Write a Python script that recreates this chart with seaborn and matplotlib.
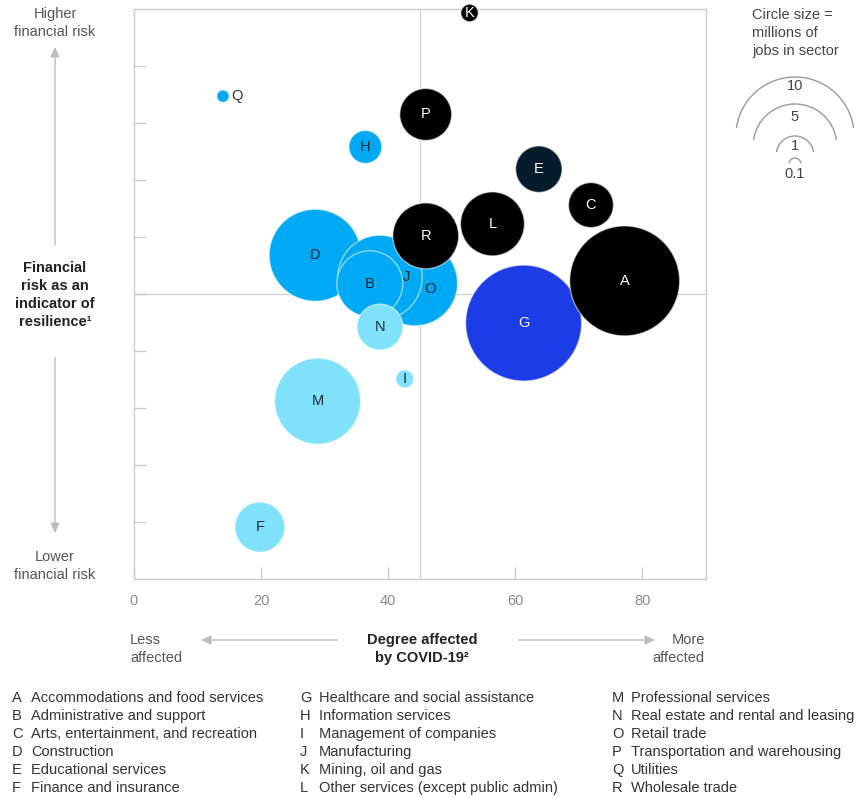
import matplotlib
matplotlib.use("Agg")
import matplotlib.pyplot as plt
import seaborn as sns
import pandas as pd
from matplotlib.patches import Arc

# -----------------------------
# Data
# -----------------------------
letters = list("ABCDEFGHIJKLMNOPQR")
sectors = [
    "Accommodations and food services",
    "Administrative and support",
    "Arts, entertainment, and recreation",
    "Construction",
    "Educational services",
    "Finance and insurance",
    "Healthcare and social assistance",
    "Information services",
    "Management of companies",
    "Manufacturing",
    "Mining, oil and gas",
    "Other services (except public admin)",
    "Professional services",
    "Real estate and rental and leasing",
    "Retail trade",
    "Transportation and warehousing",
    "Utilities",
    "Wholesale trade",
]
covid_impact = [77.2, 37.1, 71.9, 28.5, 63.7, 19.8, 61.3, 36.4, 42.6,
                38.7, 52.8, 56.4, 28.9, 38.7, 44.2, 45.9, 14.0, 45.9]
financial_risk = [5.23, 5.18, 6.56, 5.68, 7.19, 0.91, 4.49, 7.58, 3.51,
                  5.29, 9.93, 6.23, 3.12, 4.42, 5.19, 8.15, 8.47, 6.02]
jobs_millions = [8.65, 3.11, 1.45, 6.05, 1.55, 1.79, 9.62, 0.78, 0.23,
                 5.10, 0.22, 2.93, 5.29, 1.51, 5.20, 1.93, 0.11, 3.11]
tone = ["black", "mid", "black", "mid", "navy", "light", "royal", "mid", "light",
        "mid", "black", "black", "light", "light", "mid", "black", "mid", "black"]

legend_values = [10, 5, 1, 0.1]

tone_colors = {"black": "#000000", "navy": "#051c2c", "royal": "#1c3de6",
               "mid": "#00a9f4", "light": "#80e1fa"}
label_colors = {"black": "white", "navy": "white", "royal": "white",
                "mid": "#1a2a38", "light": "#1a2a38"}
# labels that sit off-centre in the original (offsets in points)
label_nudge = {"J": (19, 0), "O": (11, -4)}

df = pd.DataFrame({"letter": letters, "sector": sectors, "covid": covid_impact,
                   "risk": financial_risk, "jobs": jobs_millions, "tone": tone})
# big bubbles first so the small ones sit on top
df = df.sort_values("jobs", ascending=False)

# -----------------------------
# Figure setup
# -----------------------------
sns.set_theme(style="white")
plt.rcParams["font.family"] = ["Liberation Sans", "DejaVu Sans"]
fs = 10.5
ls = 1.38

W, H = 856, 798
fig = plt.figure(figsize=(W / 100, H / 100), dpi=100)
ax = fig.add_axes([134 / W, 1 - 579 / H, 572 / W, 570 / H])

px_per_root_million = 18.7  # bubble radius in px for 1 million jobs
area_per_million = (2 * px_per_root_million * 72 / fig.dpi) ** 2

ax.axvline(45, color="#d4d4d4", lw=1, zorder=0)
ax.axhline(5, color="#d4d4d4", lw=1, zorder=0)

sns.scatterplot(data=df, x="covid", y="risk", hue="tone", palette=tone_colors,
                size="jobs", sizes=(0, area_per_million * 10), size_norm=(0, 10),
                edgecolor=(1, 1, 1, 0.55), linewidth=1, legend=False,
                clip_on=False, zorder=3, ax=ax)

for _, row in df.iterrows():
    if row["letter"] == "Q":
        ax.annotate("Q", (row["covid"], row["risk"]), xytext=(6, 0),
                    textcoords="offset points", ha="left", va="center",
                    fontsize=fs, color="#333333", zorder=5)
        continue
    dx, dy = label_nudge.get(row["letter"], (0, 0))
    ax.annotate(row["letter"], (row["covid"], row["risk"]), xytext=(dx, dy),
                textcoords="offset points", ha="center", va="center",
                fontsize=fs, color=label_colors[row["tone"]], zorder=5,
                annotation_clip=False)

ax.set_xlim(0, 90)
ax.set_ylim(0, 10)
ax.set_xticks([0, 20, 40, 60, 80])
ax.set_xticks([10, 30, 50, 70], minor=True)
ax.set_yticks(range(1, 10))
ax.set_yticklabels([])
ax.set_xlabel("")
ax.set_ylabel("")
ax.tick_params(axis="both", which="both", direction="in", length=8.6, width=1,
               color="#cccccc", labelsize=fs, labelcolor="#8a8a8a")
ax.tick_params(axis="x", pad=11)
ax.tick_params(axis="y", left=True)
ax.tick_params(axis="x", bottom=True)
for sp in ax.spines.values():
    sp.set_color("#cccccc")
    sp.set_linewidth(1)

# -----------------------------
# Annotations in pixel space
# -----------------------------
ov = fig.add_axes([0, 0, 1, 1])
ov.set_xlim(0, W)
ov.set_ylim(H, 0)
ov.axis("off")

gray = "#555555"
arrow_kw = dict(arrowstyle="-|>,head_length=0.5,head_width=0.22",
                color="#bdbdbd", lw=1)

ov.text(55, 23, "Higher\nfinancial risk", ha="center", va="center",
        fontsize=fs, color=gray, linespacing=ls)
ov.annotate("", xy=(55, 44), xytext=(55, 248), arrowprops=arrow_kw)
ov.text(55, 295, "Financial\nrisk as an\nindicator of\nresilience\u00b9",
        ha="center", va="center", fontsize=fs, fontweight="bold",
        color="#222222", linespacing=ls)
ov.annotate("", xy=(55, 536), xytext=(55, 355), arrowprops=arrow_kw)
ov.text(55, 566, "Lower\nfinancial risk", ha="center", va="center",
        fontsize=fs, color=gray, linespacing=ls)

ov.text(130, 649, "Less\naffected", ha="left", va="center",
        fontsize=fs, color=gray, linespacing=ls)
ov.annotate("", xy=(198, 640), xytext=(340, 640), arrowprops=arrow_kw)
ov.text(422, 649, "Degree affected\nby COVID-19\u00b2", ha="center", va="center",
        fontsize=fs, fontweight="bold", color="#222222", linespacing=ls)
ov.annotate("", xy=(658, 640), xytext=(516, 640), arrowprops=arrow_kw)
ov.text(705, 649, "More\naffected", ha="right", va="center",
        fontsize=fs, color=gray, linespacing=ls)

# bubble size key
ov.text(752, 33, "Circle size =\nmillions of\njobs in sector", ha="left",
        va="center", fontsize=fs, color="#444444", linespacing=ls)
arc_tops = [77, 104, 136, 158]
key_label_y = [86, 117, 146, 174]
for val, top, ly in zip(legend_values, arc_tops, key_label_y):
    r = px_per_root_million * val ** 0.5
    ov.add_patch(Arc((795, top + r), 2 * r, 2 * r, theta1=188, theta2=352,
                     color="#9a9a9a", lw=1))
    ov.text(795, ly, f"{val:g}", ha="center", va="center", fontsize=fs,
            color="#444444")

# sector key below the chart
col_x = [12, 300, 612]
row_y = [698, 716, 734, 752, 770, 788]
for i, (let, name) in enumerate(zip(letters, sectors)):
    x0 = col_x[i // 6]
    y0 = row_y[i % 6]
    ov.text(x0, y0, let, ha="left", va="center", fontsize=fs, color="#333333")
    ov.text(x0 + 19, y0, name, ha="left", va="center", fontsize=fs,
            color="#333333")

fig.savefig("out.png", dpi=100)
